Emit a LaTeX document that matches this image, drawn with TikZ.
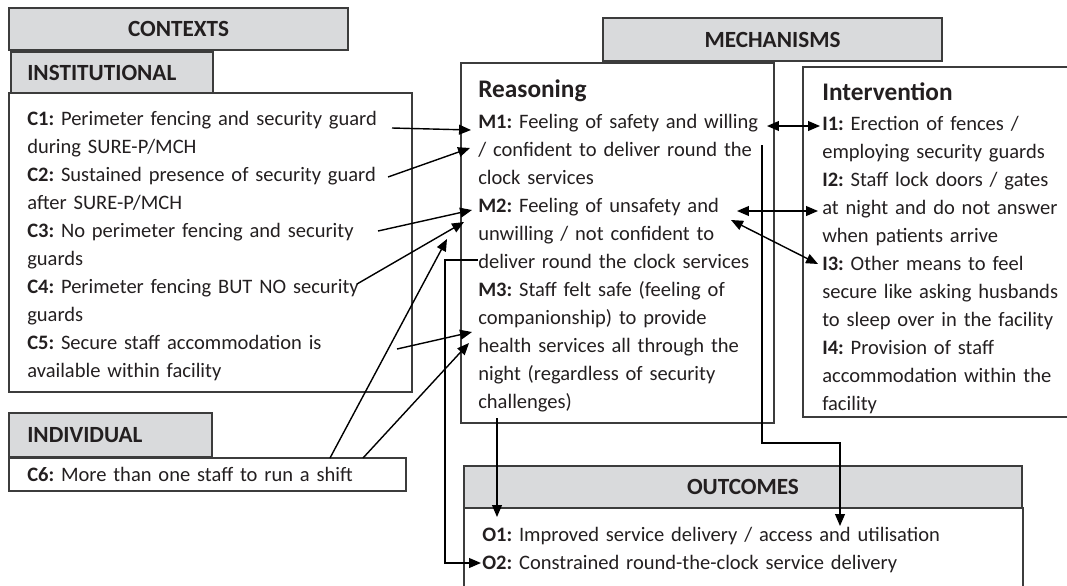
\documentclass[tikz,border=0pt]{standalone}
\usepackage{fontspec}
\setmainfont{Carlito}
\usepackage{tikz}
\usetikzlibrary{arrows.meta}
\frenchspacing

\definecolor{boxline}{RGB}{60,60,60}
\definecolor{headfill}{RGB}{217,218,220}
\definecolor{textcol}{RGB}{35,31,32}

\tikzset{
  headbox/.style={draw=boxline, fill=headfill, line width=0.8pt},
  plainbox/.style={draw=boxline, line width=0.8pt},
  headtext/.style={text=textcol, inner sep=0pt, font=\bfseries\fontsize{16.5}{20}\selectfont},
  bodytext/.style={text=textcol, inner sep=0pt, anchor=base west, align=left, text width=14cm, font=\fontsize{14.6}{19.92}\selectfont},
  titletext/.style={text=textcol, inner sep=0pt, anchor=base west, font=\bfseries\fontsize{18}{20}\selectfont},
  link/.style={line width=1pt, black, -{Triangle[length=8.5pt,width=7pt]}},
  twolink/.style={line width=1pt, black, {Triangle[length=8.5pt,width=7pt]}-{Triangle[length=8.5pt,width=7pt]}}
}

\begin{document}
\begin{tikzpicture}[y=-1cm]
\useasboundingbox (0,0) rectangle (26.675,14.625);

%the contexts
\draw [headbox] (0.225,0.2) rectangle (8.7,1.25);
\node [headtext] (contexts) at (4.4625,0.725) {CONTEXTS};
\draw [headbox] (0.275,1.3) rectangle (5.325,2.325);
\node [headtext, anchor=west] (institutional) at (0.675,1.8125) {INSTITUTIONAL};
\draw [plainbox] (0.225,2.325) rectangle (10.3,9.8);
\node [bodytext] (insttext) at (0.675,3.125) {\textbf{C1:} Perimeter fencing and security guard\\
during SURE-P/MCH\\
\textbf{C2:} Sustained presence of security guard\\
after SURE-P/MCH\\
\textbf{C3:} No perimeter fencing and security\\
guards\\
\textbf{C4:} Perimeter fencing BUT NO security\\
guards\\
\textbf{C5:} Secure staff accommodation is\\
available within facility};

\draw [headbox] (0.225,10.325) rectangle (5.3,11.425);
\node [headtext, anchor=west] (individual) at (0.675,10.875) {INDIVIDUAL};
\draw [plainbox] (0.225,11.45) rectangle (10.15,12.275);
\node [bodytext] (indivtext) at (0.675,12.025) {\textbf{C6:} More than one staff to run a shift};

%the mechanisms
\draw [headbox] (15.075,0.45) rectangle (23.55,1.525);
\node [headtext] (mechanisms) at (19.3125,0.9875) {MECHANISMS};
\draw [plainbox] (11.525,1.575) rectangle (19.35,10.575);
\node [titletext] (reasoning) at (11.95,2.425) {Reasoning};
\node [bodytext] (reasontext) at (11.95,3.2) {\textbf{M1:} Feeling of safety and willing\\
/ confident to deliver round the\\
clock services\\
\textbf{M2:} Feeling of unsafety and\\
unwilling / not confident to\\
deliver round the clock services\\
\textbf{M3:} Staff felt safe (feeling of\\
companionship) to provide\\
health services all through the\\
night (regardless of security\\
challenges)};

\draw [plainbox] (27.0,1.675) -- (20.075,1.675) -- (20.075,10.425) -- (27.0,10.425);
\node [titletext] (intervention) at (20.55,2.5) {Intervention};
\node [bodytext] (intertext) at (20.55,3.25) {\textbf{I1:} Erection of fences /\\
employing security guards\\
\textbf{I2:} Staff lock doors / gates\\
at night and do not answer\\
when patients arrive\\
\textbf{I3:} Other means to feel\\
secure like asking husbands\\
to sleep over in the facility\\
\textbf{I4:} Provision of staff\\
accommodation within the\\
facility};

%the outcomes
\draw [headbox] (11.6,11.65) rectangle (25.55,12.7);
\node [headtext] (outcomes) at (18.575,12.175) {OUTCOMES};
\draw [plainbox] (11.6,15.0) -- (11.6,12.7) -- (25.575,12.7) -- (25.575,15.0);
\node [bodytext] (outtext) at (12.05,13.525) {\textbf{O1:} Improved service delivery / access and utilisation\\
\textbf{O2:} Constrained round-the-clock service delivery};

%arrow ends
\coordinate (c1) at (9.8,3.2);
\coordinate (c2) at (9.7,4.425);
\coordinate (c3) at (9.45,5.775);
\coordinate (c4) at (8.925,7.1);
\coordinate (c5) at (9.925,8.725);
\coordinate (c6a) at (8.25,11.45);
\coordinate (c6b) at (9.075,11.45);
\coordinate (m1a) at (11.775,3.25);
\coordinate (m1b) at (11.75,3.7);
\coordinate (m2a) at (11.8,5.25);
\coordinate (m2b) at (11.6,5.55);
\coordinate (m2c) at (11.175,5.975);
\coordinate (m3a) at (11.8,8.3);
\coordinate (m3b) at (11.725,8.575);
\coordinate (m1r) at (19.175,3.15);
\coordinate (i1) at (20.5,3.15);
\coordinate (m2r) at (18.425,5.275);
\coordinate (i2) at (20.45,5.275);
\coordinate (m2s) at (18.275,5.5);
\coordinate (i3) at (20.45,6.6);
\coordinate (m2d) at (11.95,6.5);
\coordinate (o2) at (12.025,14.075);
\coordinate (m3d) at (12.425,10.45);
\coordinate (o1a) at (12.425,12.925);
\coordinate (m1d) at (19.05,3.625);
\coordinate (o1b) at (21.0,13.15);

%contexts to reasoning
\draw [link] (c1) -- (m1a);
\draw [link] (c2) -- (m1b);
\draw [link] (c3) -- (m2a);
\draw [link] (c4) -- (m2b);
\draw [link] (c6a) -- (m2c);
\draw [link] (c5) -- (m3a);
\draw [link] (c6b) -- (m3b);

%reasoning and intervention
\draw [twolink] (m1r) -- (i1);
\draw [twolink] (m2r) -- (i2);
\draw [twolink] (m2s) -- (i3);

%to the outcomes
\draw [link] (m2d) -- (11.125,6.5) -- (11.125,14.075) -- (o2);
\draw [link] (m3d) -- (o1a);
\draw [link] (m1d) -- (19.05,11.075) -- (21.0,11.075) -- (o1b);
\end{tikzpicture}
\end{document}
